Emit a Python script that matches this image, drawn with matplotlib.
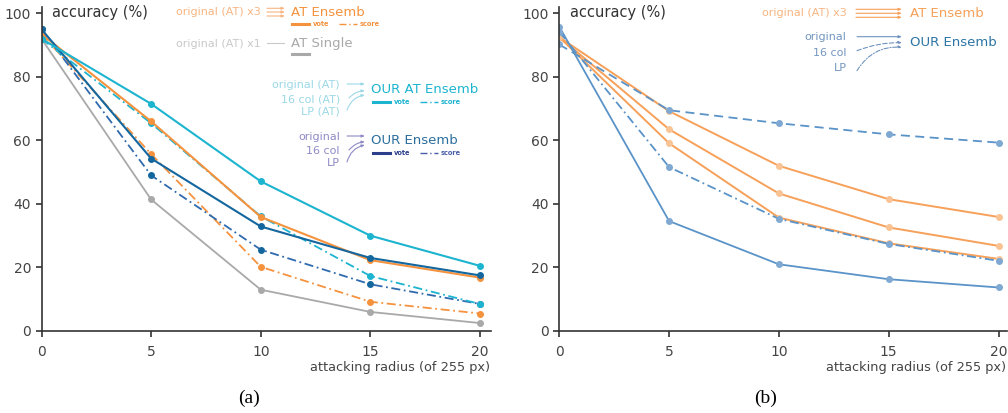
import matplotlib.pyplot as plt
from matplotlib.patches import FancyArrowPatch
from matplotlib.lines import Line2D

plt.rcParams['font.family'] = 'DejaVu Sans'

W, H = 1008, 413

radius = [0, 5, 10, 15, 20]

# panel (a)
our_at_vote = [92.0, 71.5, 47.1, 30.0, 20.5]
our_at_score = [92.0, 65.4, 36.1, 17.3, 8.5]
at_vote = [93.5, 66.0, 35.9, 22.3, 16.8]
at_score = [93.5, 55.7, 20.2, 9.2, 5.5]
our_vote = [95.0, 54.3, 32.9, 23.0, 17.5]
our_score = [95.0, 49.0, 25.6, 14.7, 8.5]
at_single = [92.0, 41.4, 13.0, 6.0, 2.5]

# panel (b)
our_orig = [95.8, 34.6, 21.0, 16.3, 13.7]
our_16col = [90.2, 69.5, 65.4, 61.9, 59.3]
our_lp = [94.2, 51.6, 35.3, 27.4, 22.1]
at_orig_1 = [92.5, 69.2, 52.0, 41.5, 35.9]
at_orig_2 = [92.5, 63.5, 43.3, 32.6, 26.8]
at_orig_3 = [92.5, 59.1, 35.7, 27.6, 22.7]

ORANGE = '#F5923E'
ORANGE_L = '#F8B581'
GRAY = '#A9A9A9'
GRAY_L = '#C9C9C9'
CYAN = '#1DB4D0'
CYAN_L = '#9BD8E6'
NAVY = '#14679E'
NAVY_DD = '#2F6AAE'
PURPLE = '#8F8BC6'
BLUE_B = '#5A93C8'
BLUE_BM = '#7FA9D2'
ORANGE_B = '#F6A059'
ORANGE_BM = '#F9C394'
DASHDOT = (0, (5, 2, 1, 2))


def px(x, y):
    return x / W, 1 - y / H


def style_axes(ax, xmax):
    ax.set_xlim(0, xmax)
    ax.set_ylim(0, 102)
    ax.set_xticks(radius)
    ax.set_yticks([0, 20, 40, 60, 80, 100])
    for s in ['top', 'right']:
        ax.spines[s].set_visible(False)
    for s in ['left', 'bottom']:
        ax.spines[s].set_color('#333333')
        ax.spines[s].set_linewidth(1.2)
    ax.tick_params(colors='#333333', labelcolor='#444444', labelsize=10,
                   length=4, width=1.2)
    ax.tick_params(axis='x', pad=6)
    ax.text(0.5, 100.3, 'accuracy (%)', fontsize=10.5,
            color='#333333', va='center', ha='left')


fig = plt.figure(figsize=(W / 100, H / 100), dpi=100)
axa = fig.add_axes([41.5 / W, 82 / H, 449.5 / W, 324 / H])
axb = fig.add_axes([559.3 / W, 82 / H, 448 / W, 324 / H])
style_axes(axa, 20.5)
style_axes(axb, 20.4)

mk = dict(marker='o', markersize=4)
axa.plot(radius, at_single, color=GRAY, lw=1.3, **mk)
axa.plot(radius, at_score, color=ORANGE, lw=1.3, ls=DASHDOT, **mk)
axa.plot(radius, our_score, color=NAVY_DD, lw=1.3, ls=DASHDOT, mfc=NAVY, mec=NAVY, **mk)
axa.plot(radius, our_at_score, color=CYAN, lw=1.3, ls=DASHDOT, **mk)
axa.plot(radius, at_vote, color=ORANGE, lw=1.5, **mk)
axa.plot(radius, our_vote, color=NAVY, lw=1.5, **mk)
axa.plot(radius, our_at_vote, color=CYAN, lw=1.5, **mk)

mkb = dict(marker='o', markersize=4)
for ys in [at_orig_1, at_orig_2, at_orig_3]:
    axb.plot(radius, ys, color=ORANGE_B, lw=1.4, mfc=ORANGE_BM, mec=ORANGE_BM, **mkb)
axb.plot(radius, our_orig, color=BLUE_B, lw=1.3, mfc=BLUE_BM, mec=BLUE_BM, **mkb)
axb.plot(radius, our_16col, color=BLUE_B, lw=1.3, ls=(0, (5, 3)), mfc=BLUE_BM, mec=BLUE_BM, **mkb)
axb.plot(radius, our_lp, color=BLUE_B, lw=1.3, ls=DASHDOT, mfc=BLUE_BM, mec=BLUE_BM, **mkb)

# axis titles and panel letters
for cx in [490, 1006]:
    fig.text(*px(cx, 367), 'attacking radius (of 255 px)', fontsize=9.3,
             color='#444444', ha='right', va='center')
fig.text(*px(249, 398), '(a)', fontsize=14, family='Liberation Serif',
         ha='center', va='center')
fig.text(*px(766, 398), '(b)', fontsize=14, family='Liberation Serif',
         ha='center', va='center')


def ftext(x, y, s, color, size, ha='left', weight='normal'):
    fig.text(*px(x, y), s, color=color, fontsize=size, ha=ha, va='center',
             fontweight=weight)


def fline(x0, x1, y, color, lw=1.0, ls='-'):
    (a0, b0), (a1, b1) = px(x0, y), px(x1, y)
    fig.add_artist(Line2D([a0, a1], [b0, b1], color=color, lw=lw, ls=ls,
                          transform=fig.transFigure))


def farrow(x0, y0, x1, y1, color, rad=0.0, ls='-'):
    arr = FancyArrowPatch(px(x0, y0), px(x1, y1), transform=fig.transFigure,
                          arrowstyle='-|>,head_length=1.8,head_width=0.7',
                          connectionstyle='arc3,rad=%s' % rad, color=color,
                          lw=0.8, linestyle=ls, shrinkA=0, shrinkB=0)
    fig.add_artist(arr)


def vote_score(x, y, color, score_color):
    fline(x, x + 17, y, color, lw=2.2)
    ftext(x + 21, y, 'vote', color, 4.8, weight='bold')
    fline(x + 47, x + 65, y, score_color, lw=1.0, ls=DASHDOT)
    ftext(x + 68, y, 'score', score_color, 4.8, weight='bold')


# legend (a)
ftext(261, 12, 'original (AT) x3', ORANGE_L, 8, ha='right')
for yy in [8.3, 12, 16]:
    farrow(267, yy, 285, yy, ORANGE_L)
ftext(291, 12, 'AT Ensemb', ORANGE, 9.5)
vote_score(292, 24.3, ORANGE, ORANGE)

ftext(261, 43.7, 'original (AT) x1', GRAY_L, 8, ha='right')
fline(267, 284, 42.7, GRAY_L, lw=0.8)
ftext(291, 43.7, 'AT Single', GRAY, 9.5)
fline(292, 309, 54.3, GRAY, lw=2.2)

for yy, s in [(85, 'original (AT)'), (99, '16 col (AT)'), (111.7, 'LP (AT)')]:
    ftext(340, yy, s, CYAN_L, 8, ha='right')
farrow(347, 84, 365, 84, CYAN_L)
farrow(349, 98, 365, 90.7, CYAN_L, rad=-0.2)
farrow(347, 110, 365, 95, CYAN_L, rad=-0.3)
ftext(371, 89.3, 'OUR AT Ensemb', CYAN, 9.5)
vote_score(373, 102, CYAN, CYAN)

for yy, s in [(136.7, 'original'), (150.7, '16 col'), (163.3, 'LP')]:
    ftext(340, yy, s, PURPLE, 8, ha='right')
farrow(347, 136, 365, 136, PURPLE)
farrow(349, 150, 365, 141.7, PURPLE, rad=-0.2)
farrow(347, 162, 365, 145, PURPLE, rad=-0.3)
ftext(371, 140, 'OUR Ensemb', '#2B6E9E', 9.5)
vote_score(373, 152.7, '#2C3E8C', '#4A5FA8')

# legend (b)
ftext(846.7, 13.3, 'original (AT) x3', ORANGE_L, 8, ha='right')
for yy in [9.3, 13.3, 17.3]:
    farrow(856, yy, 902, yy, ORANGE_B)
ftext(910, 13.3, 'AT Ensemb', ORANGE_B, 9.5)

for yy, s in [(36.7, 'original'), (52.7, '16 col'), (68.3, 'LP')]:
    ftext(846.7, yy, s, '#7397C0', 8, ha='right')
farrow(857, 36.7, 902, 36.7, '#6F93BD')
farrow(857, 50.7, 902, 42.7, '#6F93BD', rad=-0.1, ls=(0, (4, 2)))
farrow(857, 70.7, 902, 47.3, '#6F93BD', rad=-0.3, ls=(0, (4, 1.5, 1, 1.5)))
ftext(910, 42, 'OUR Ensemb', '#2B74A5', 9.5)

fig.savefig('out.png', dpi=100)
